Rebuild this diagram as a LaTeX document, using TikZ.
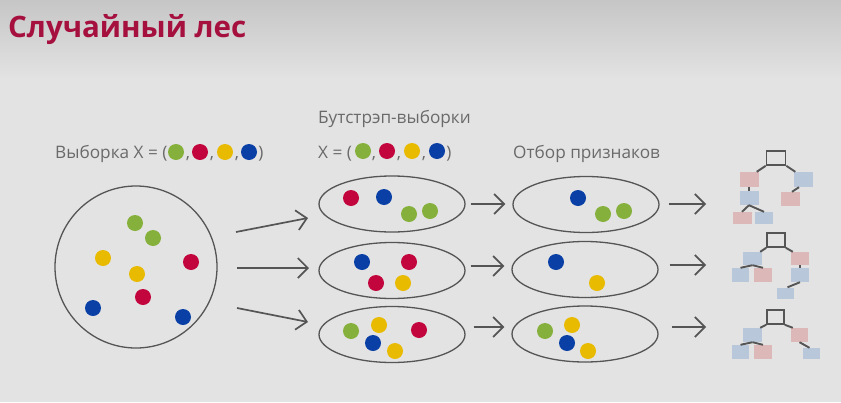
\documentclass[tikz,border=0pt]{standalone}
\usepackage{fontspec}
\setmainfont{Open Sans}
\usetikzlibrary{arrows.meta,shapes.geometric}
\definecolor{bgtop}{HTML}{C6C6C6}
\definecolor{bgmain}{HTML}{E3E3E3}
\definecolor{titlered}{HTML}{A5103F}
\definecolor{txtgray}{HTML}{6A6A6A}
\definecolor{linegray}{HTML}{555555}
\definecolor{cg}{HTML}{86B03C}
\definecolor{cr}{HTML}{C2053D}
\definecolor{cy}{HTML}{E8BA00}
\definecolor{cb}{HTML}{0A40A6}
\definecolor{lpink}{HTML}{DDB8B8}
\definecolor{lblue}{HTML}{B8C7DA}
\begin{document}
\begin{tikzpicture}[x=1pt,y=-1pt,
  dot/.style={circle,inner sep=0pt,minimum size=16pt},
  lbl/.style={text=txtgray,inner sep=0pt,font=\fontsize{17.2}{20}\selectfont},
  bag/.style={draw=linegray,line width=1.3pt,ellipse,inner sep=0pt,minimum width=146pt,minimum height=56pt},
  arr/.style={draw=linegray,line width=1.7pt,-{Straight Barb[length=10pt,width=20pt]}},
  tnode/.style={rectangle,inner sep=0pt,minimum width=19pt,minimum height=14pt},
  troot/.style={tnode,draw=linegray,line width=1.6pt},
  tp/.style={tnode,fill=lpink},
  tb/.style={tnode,fill=lblue},
  tedge/.style={draw=linegray,line width=1.9pt}]
\useasboundingbox (0,0) rectangle (841,402);
% background
\fill[bgmain] (0,0) rectangle (841,402);
\shade[top color=bgtop,bottom color=bgmain] (0,0) rectangle (841,80);

% title
\node[anchor=base west,inner sep=0pt,text=titlered,font=\fontsize{29.5}{34}\selectfont\bfseries] (title) at (8,37) {Случайный лес};

% original sample
\node[lbl,anchor=base west] (xlab) at (55,158) {Выборка X = (};
\node[dot,fill=cg] (xg) at (176,152) {};
\node[lbl,anchor=base] (xc1) at (188,158) {,};
\node[dot,fill=cr] (xr) at (200,152) {};
\node[lbl,anchor=base] (xc2) at (212,158) {,};
\node[dot,fill=cy] (xy) at (225,152) {};
\node[lbl,anchor=base] (xc3) at (237,158) {,};
\node[dot,fill=cb] (xb) at (249,152) {};
\node[lbl,anchor=base] (xp) at (261,158) {)};

\node[draw=linegray,line width=1.3pt,circle,minimum size=162pt,inner sep=0pt] (big) at (136,267) {};
\node[dot,fill=cg] (p1) at (135,223) {};
\node[dot,fill=cg] (p2) at (153,238) {};
\node[dot,fill=cy] (p3) at (103,258) {};
\node[dot,fill=cy] (p4) at (137,274) {};
\node[dot,fill=cr] (p5) at (191,262) {};
\node[dot,fill=cr] (p6) at (143,297) {};
\node[dot,fill=cb] (p7) at (93,308) {};
\node[dot,fill=cb] (p8) at (183,317) {};

% bootstrap samples
\node[lbl,anchor=base west] (blab) at (318,123) {Бутстрэп-выборки};
\node[lbl,anchor=base west] (bx) at (318,158) {X = (};
\node[dot,fill=cg] (bg) at (363,151) {};
\node[lbl,anchor=base] (bc1) at (374,158) {,};
\node[dot,fill=cr] (br) at (387,151) {};
\node[lbl,anchor=base] (bc2) at (399,158) {,};
\node[dot,fill=cy] (by) at (412,151) {};
\node[lbl,anchor=base] (bc3) at (424,158) {,};
\node[dot,fill=cb] (bb) at (437,151) {};
\node[lbl,anchor=base] (bp) at (449,158) {)};

\node[bag] (b1) at (392,204) {};
\node[bag] (b2) at (392,270.5) {};
\node[bag] (b3) at (392,334.5) {};

\node[dot,fill=cr] (b1a) at (351,198) {};
\node[dot,fill=cb] (b1b) at (384,197) {};
\node[dot,fill=cg] (b1c) at (409,214) {};
\node[dot,fill=cg] (b1d) at (430,211) {};

\node[dot,fill=cb] (b2a) at (362,262) {};
\node[dot,fill=cr] (b2b) at (409,262) {};
\node[dot,fill=cr] (b2c) at (376,283) {};
\node[dot,fill=cy] (b2d) at (403,283) {};

\node[dot,fill=cg] (b3a) at (351,331) {};
\node[dot,fill=cy] (b3b) at (379,325) {};
\node[dot,fill=cr] (b3c) at (419,330) {};
\node[dot,fill=cb] (b3d) at (373,343) {};
\node[dot,fill=cy] (b3e) at (395,351) {};

% feature selection
\node[lbl,anchor=base west] (flab) at (513,158) {Отбор признаков};
\node[bag] (f1) at (586,204.5) {};
\node[bag] (f2) at (585,269.5) {};
\node[bag] (f3) at (585,334) {};

\node[dot,fill=cb] (f1a) at (578,198) {};
\node[dot,fill=cg] (f1b) at (603,214) {};
\node[dot,fill=cg] (f1c) at (624,211) {};

\node[dot,fill=cb] (f2a) at (556,262) {};
\node[dot,fill=cy] (f2b) at (597,283) {};

\node[dot,fill=cg] (f3a) at (545,331) {};
\node[dot,fill=cy] (f3b) at (572,325) {};
\node[dot,fill=cb] (f3c) at (567,343) {};
\node[dot,fill=cy] (f3d) at (588,351) {};

% arrows: sample -> bootstrap
\coordinate (s1) at (236,232);
\coordinate (e1) at (308,218);
\coordinate (s2) at (237,268);
\coordinate (e2) at (309,268);
\coordinate (s3) at (237,308);
\coordinate (e3) at (308,322);
\draw[arr] (s1) -- (e1);
\draw[arr] (s2) -- (e2);
\draw[arr] (s3) -- (e3);

% arrows: bootstrap -> selection
\draw[arr] ([xshift=5pt]b1.east) -- ([xshift=-7pt]f1.west |- b1.east);
\draw[arr] ([xshift=5pt,yshift=4.5pt]b2.east) -- ([xshift=-7pt,yshift=4.5pt]f2.west |- b2.east);
\draw[arr] ([xshift=8pt,yshift=7.5pt]b3.east) -- ([xshift=-7pt,yshift=7.5pt]f3.west |- b3.east);

% arrows: selection -> trees
\coordinate (t1) at (706,204);
\coordinate (t2) at (706,265);
\coordinate (t3) at (706,327);
\draw[arr] ([xshift=9pt]f1.east |- t1) -- (t1);
\draw[arr] ([xshift=11pt]f2.east |- t2) -- (t2);
\draw[arr] ([xshift=13pt]f3.east |- t3) -- (t3);

% tree 1
\node[troot] (r1) at (776,158) {};
\node[tp,minimum height=15pt] (r1l) at (749,179.5) {};
\node[tb,minimum height=15pt] (r1r) at (803,179.5) {};
\node[tb] (r1ll) at (749,198) {};
\node[tp] (r1rl) at (790,199) {};
\node[tp,minimum height=12pt] (r1lll) at (742,218) {};
\node[tb,minimum height=12pt,minimum width=18pt] (r1llr) at (764,218) {};
\draw[tedge] (r1.south west) -- ([xshift=-2pt]r1l.north east);
\draw[tedge] (r1.south east) -- ([xshift=2pt]r1r.north west);
\draw[tedge] (r1l.south) -- (r1ll.north);
\draw[tedge] (r1ll.south) -- (r1lll.north);
\draw[tedge] (r1ll.south) -- (r1llr.north);
\draw[tedge] ([xshift=-4pt]r1r.south) -- ([xshift=2pt]r1rl.north);

% tree 2
\node[troot,minimum width=18pt] (r2) at (776,240) {};
\node[tb,minimum height=13pt] (r2l) at (752.5,258.5) {};
\node[tp,minimum height=13pt,minimum width=18pt] (r2r) at (800,258.5) {};
\node[tb,minimum width=17pt] (r2ll) at (740.5,275) {};
\node[tp,minimum width=18pt] (r2lr) at (763,275) {};
\node[tb,minimum width=18pt] (r2rl) at (800,275) {};
\node[tb,minimum width=17pt,minimum height=11pt] (r2rll) at (785.5,293) {};
\draw[tedge] (r2.south west) -- ([xshift=-2pt]r2l.north east);
\draw[tedge] (r2.south east) -- ([xshift=2pt]r2r.north west);
\draw[tedge] (r2l.south) -- (r2ll.north);
\draw[tedge] (r2l.south) -- (r2lr.north);
\draw[tedge] (r2r.south) -- (r2rl.north);
\draw[tedge] (r2rl.south) -- ([xshift=2pt]r2rll.north);

% tree 3
\node[troot,minimum width=17pt] (r3) at (775.5,317) {};
\node[tb] (r3l) at (752.5,335) {};
\node[tp,minimum width=17pt] (r3r) at (799.5,335) {};
\node[tb,minimum width=17pt] (r3ll) at (740.5,352) {};
\node[tp,minimum width=18pt] (r3lr) at (763,352) {};
\node[tb,minimum width=17pt,minimum height=11pt] (r3rr) at (811.5,353.5) {};
\draw[tedge] (r3.south west) -- ([xshift=-2pt]r3l.north east);
\draw[tedge] (r3.south east) -- ([xshift=2pt]r3r.north west);
\draw[tedge] (r3l.south) -- (r3ll.north);
\draw[tedge] (r3l.south) -- (r3lr.north);
\draw[tedge] (r3r.south) -- ([xshift=-2pt]r3rr.north);
\end{tikzpicture}
\end{document}
